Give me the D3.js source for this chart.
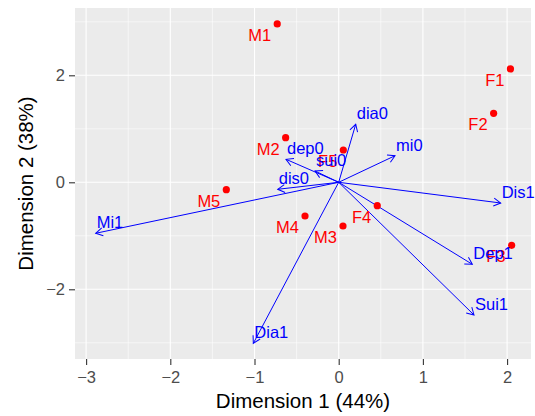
<!DOCTYPE html>
<html>
<head>
<meta charset="utf-8">
<script src="https://cdn.jsdelivr.net/npm/d3@7"></script>
<style>
body { margin: 0; background: #fff; }
text { font-family: "Liberation Sans", Arial, sans-serif; }
</style>
</head>
<body>
<div class="viz-biplot"></div>
<script>
var w = 535;
var h = 416;

// individui (punti rossi)
var indNames = ["M1", "F1", "F2", "M2", "F5", "M5", "F4", "M4", "M3", "F3"];
var indX = [-0.73, 2.04, 1.84, -0.63, 0.055, -1.335, 0.458, -0.40, 0.051, 2.054];
var indY = [2.96, 2.12, 1.29, 0.834, 0.604, -0.138, -0.437, -0.63, -0.817, -1.178];

// variabili (frecce blu)
var varNames = ["dia0", "mi0", "Dis1", "dep0", "sui0", "dis0", "Mi1", "Dia1", "Dep1", "Sui1"];
var varX = [0.202, 0.669, 1.924, -0.626, -0.281, -0.724, -2.886, -1.014, 1.587, 1.607];
var varY = [1.084, 0.497, -0.387, 0.43, 0.211, -0.131, -0.953, -3.01, -1.533, -2.48];

var xTicks = [-3, -2, -1, 0, 1, 2];
var yTicks = [-2, 0, 2];
var xMinor = [-2.5, -1.5, -0.5, 0.5, 1.5];
var yMinor = [-3, -1, 1, 3];

var x = d3.scaleLinear().domain([-3.132, 2.284]).range([75, 531]);
var y = d3.scaleLinear().domain([-3.303, 3.258]).range([359, 8]);

var svg = d3.select('.viz-biplot')
            .append("svg")
            .attr("width", w)
            .attr("height", h);

svg.append("defs").append("marker")
   .attr("id", "freccia")
   .attr("markerUnits", "userSpaceOnUse")
   .attr("viewBox", "-10 -6 12 12")
   .attr("markerWidth", 12)
   .attr("markerHeight", 12)
   .attr("refX", 0)
   .attr("refY", 0)
   .attr("orient", "auto")
   .append("path")
   .attr("d", "M-7,-4 L0,0 L-7,4")
   .attr("fill", "none")
   .attr("stroke", "blue")
   .attr("stroke-width", 1);

// sfondo pannello
svg.append("rect")
   .attr("x", x.range()[0])
   .attr("y", y.range()[1])
   .attr("width", x.range()[1] - x.range()[0])
   .attr("height", y.range()[0] - y.range()[1])
   .attr("fill", "#ebebeb");

var grid = svg.append("g");
grid.selectAll(".xminor").data(xMinor).enter().append("line")
    .attr("x1", function (d) {return x(d)}).attr("x2", function (d) {return x(d)})
    .attr("y1", y.range()[0]).attr("y2", y.range()[1])
    .attr("stroke", "#fff").attr("stroke-width", 0.55);
grid.selectAll(".yminor").data(yMinor).enter().append("line")
    .attr("y1", function (d) {return y(d)}).attr("y2", function (d) {return y(d)})
    .attr("x1", x.range()[0]).attr("x2", x.range()[1])
    .attr("stroke", "#fff").attr("stroke-width", 0.55);
grid.selectAll(".xmajor").data(xTicks).enter().append("line")
    .attr("x1", function (d) {return x(d)}).attr("x2", function (d) {return x(d)})
    .attr("y1", y.range()[0]).attr("y2", y.range()[1])
    .attr("stroke", "#fff").attr("stroke-width", 1.1);
grid.selectAll(".ymajor").data(yTicks).enter().append("line")
    .attr("y1", function (d) {return y(d)}).attr("y2", function (d) {return y(d)})
    .attr("x1", x.range()[0]).attr("x2", x.range()[1])
    .attr("stroke", "#fff").attr("stroke-width", 1.1);

// assi
var xAxis = svg.append("g")
    .attr("transform", "translate(0," + y.range()[0] + ")")
    .call(d3.axisBottom(x).tickValues(xTicks).tickSize(6).tickPadding(6)
          .tickFormat(function (d) {return d < 0 ? "\u2212" + Math.abs(d) : d}));
var yAxis = svg.append("g")
    .attr("transform", "translate(" + x.range()[0] + ",0)")
    .call(d3.axisLeft(y).tickValues(yTicks).tickSize(6).tickPadding(4)
          .tickFormat(function (d) {return d < 0 ? "\u2212" + Math.abs(d) : d}));
[xAxis, yAxis].forEach(function (a) {
    a.select(".domain").remove();
    a.selectAll(".tick line").attr("stroke", "#333").attr("stroke-width", 1.1);
    a.selectAll(".tick text").attr("fill", "#4d4d4d").attr("font-size", 16.5)
     .style("font-family", "'Liberation Sans', Arial, sans-serif");
});

svg.append("text")
   .attr("x", (x.range()[0] + x.range()[1]) / 2)
   .attr("y", 408)
   .attr("text-anchor", "middle")
   .attr("font-size", 20.5)
   .text("Dimension 1 (44%)");
svg.append("text")
   .attr("transform", "translate(33," + (y.range()[0] + y.range()[1]) / 2 + ") rotate(-90)")
   .attr("text-anchor", "middle")
   .attr("font-size", 20.5)
   .text("Dimension 2 (38%)");

// frecce
svg.selectAll(".freccia").data(varNames).enter().append("line")
   .attr("x1", x(0)).attr("y1", y(0))
   .attr("x2", function (d, i) {return x(varX[i])})
   .attr("y2", function (d, i) {return y(varY[i])})
   .attr("stroke", "blue").attr("stroke-width", 1)
   .attr("marker-end", "url(#freccia)");

// punti
svg.selectAll(".punto").data(indNames).enter().append("circle")
   .attr("cx", function (d, i) {return x(indX[i])})
   .attr("cy", function (d, i) {return y(indY[i])})
   .attr("r", 3.6)
   .attr("fill", "red");

svg.selectAll(".etind").data(indNames).enter().append("text")
   .attr("x", function (d, i) {return x(indX[i]) - 6})
   .attr("y", function (d, i) {return y(indY[i]) + 17})
   .attr("text-anchor", "end")
   .attr("font-size", 16.5)
   .attr("fill", "red")
   .text(function (d) {return d});

svg.selectAll(".etvar").data(varNames).enter().append("text")
   .attr("x", function (d, i) {return x(varX[i]) + 1})
   .attr("y", function (d, i) {return y(varY[i]) - 5})
   .attr("font-size", 16.5)
   .attr("fill", "blue")
   .text(function (d) {return d});
</script>
</body>
</html>
